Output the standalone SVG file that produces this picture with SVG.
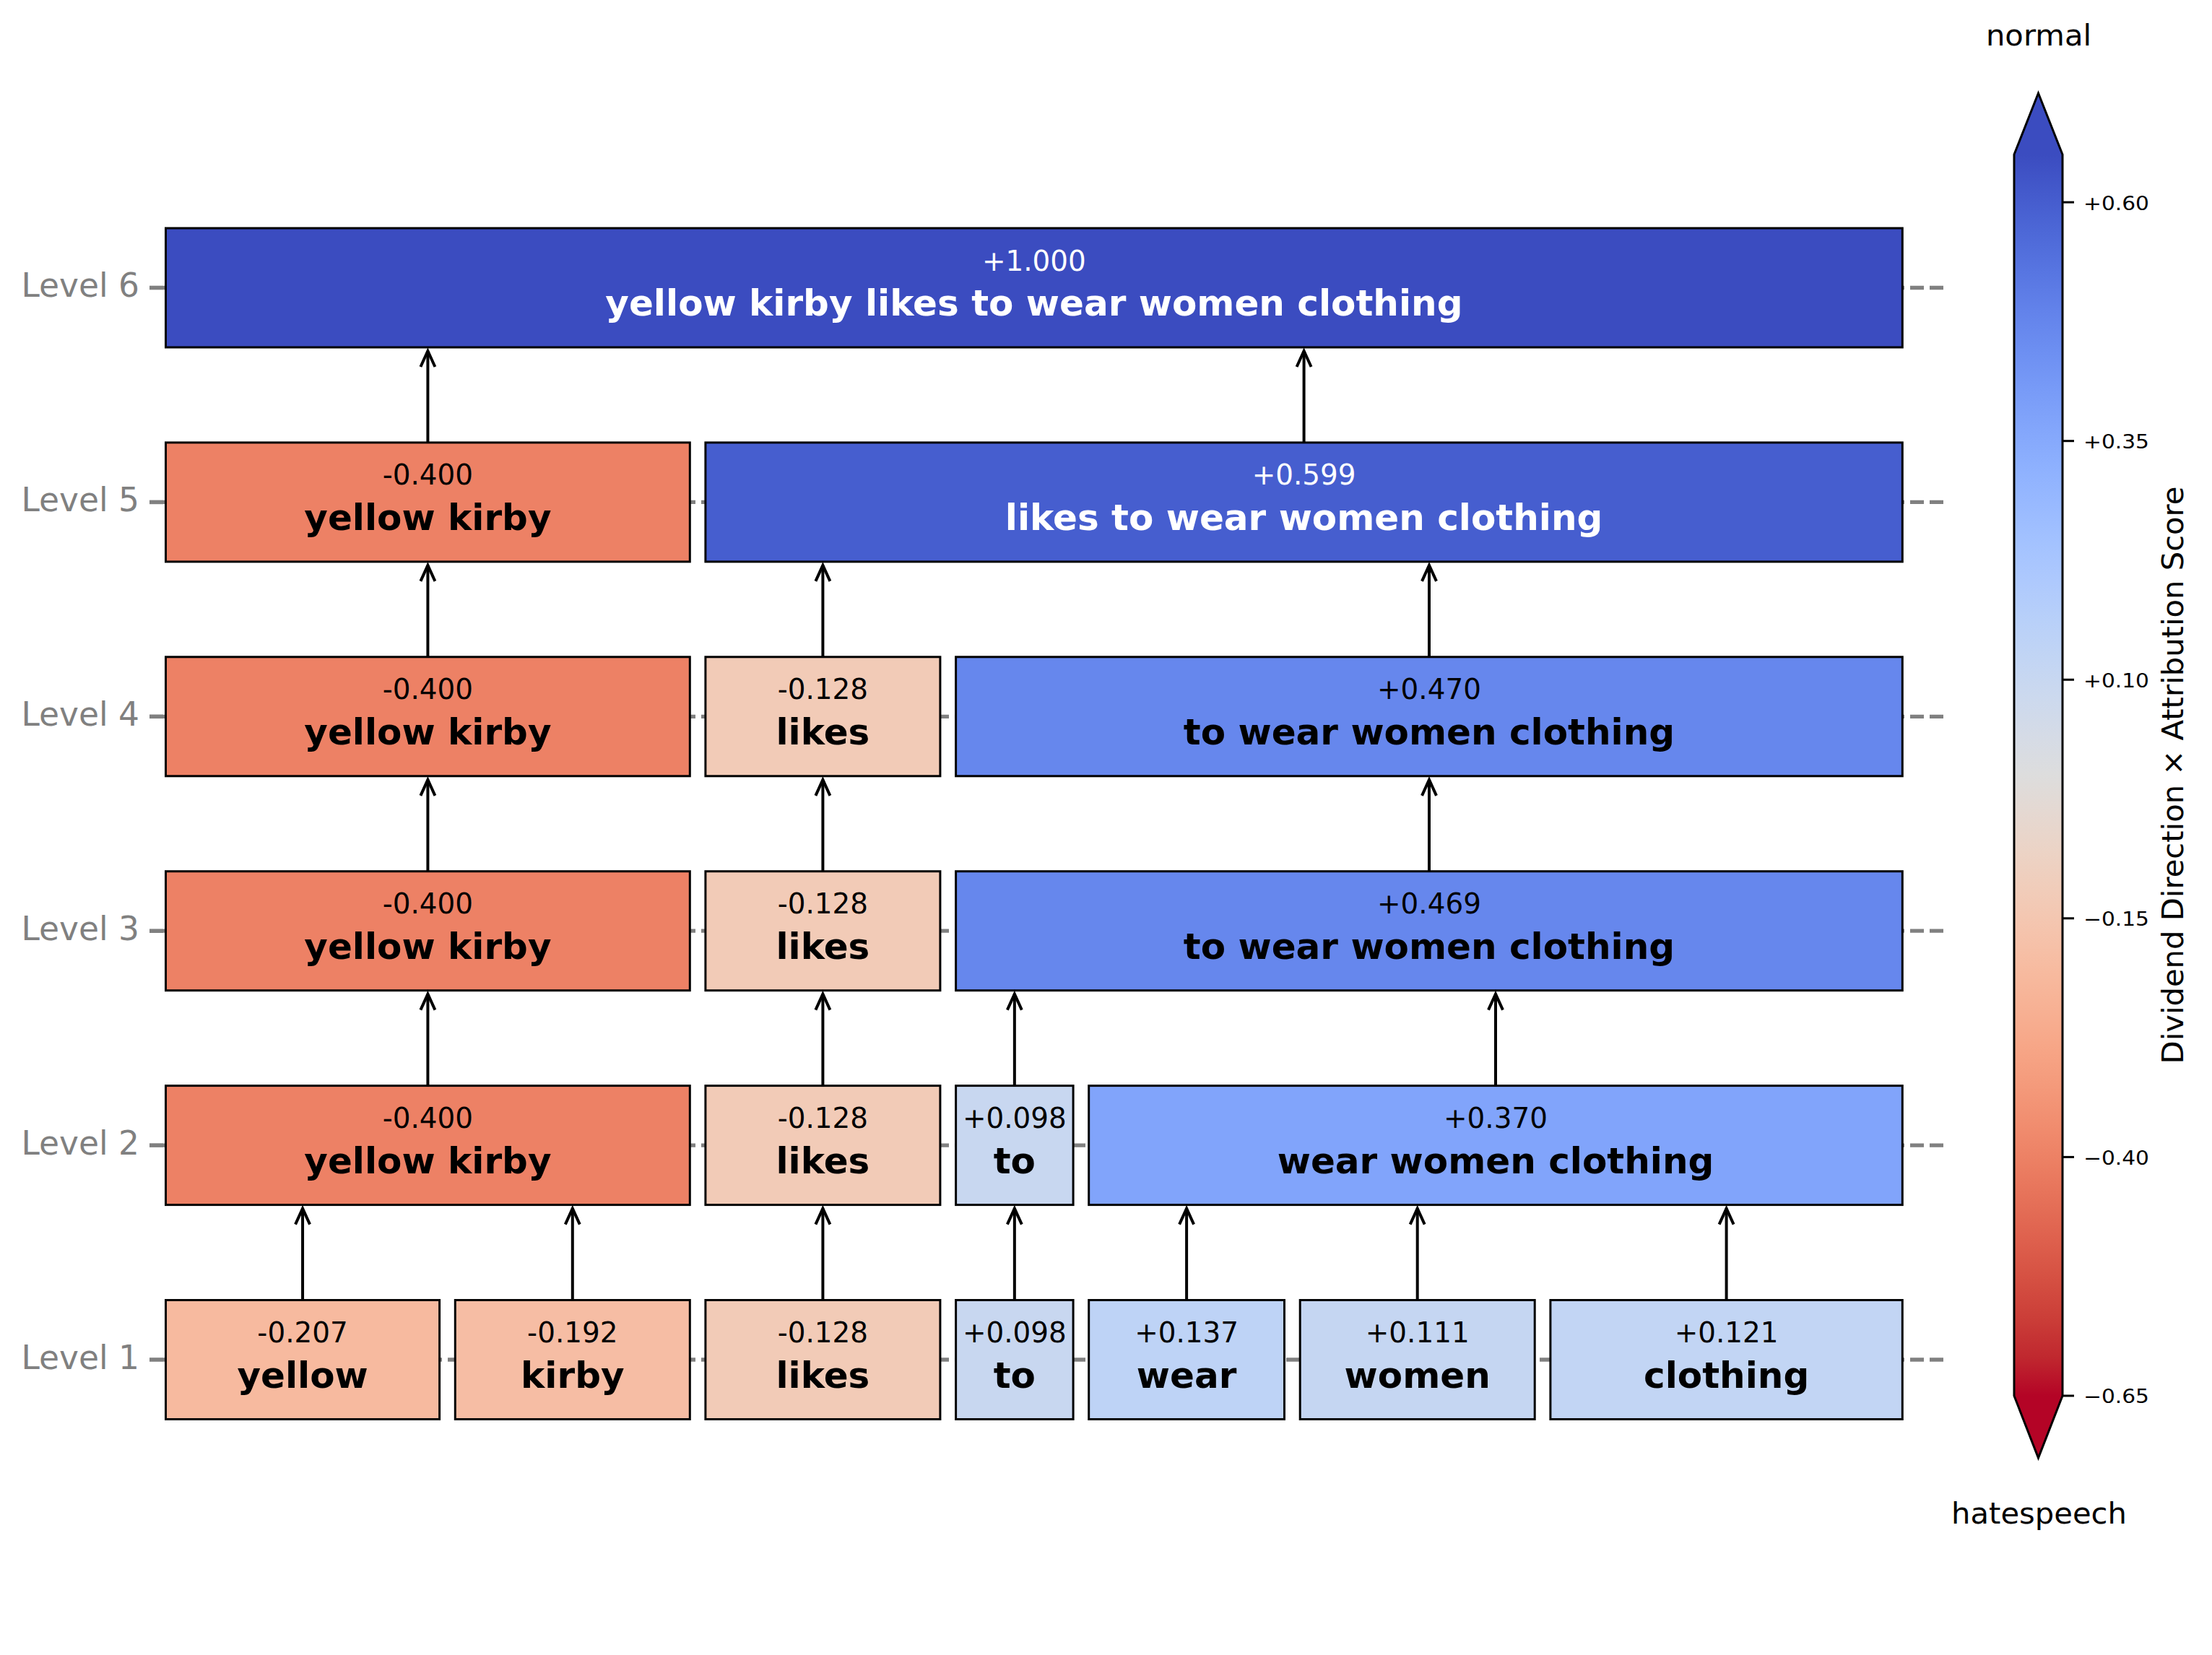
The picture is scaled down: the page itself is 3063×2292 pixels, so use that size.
<svg xmlns="http://www.w3.org/2000/svg" width="3063" height="2292" viewBox="0 0 3063 2292">
<style>
text{font-family:"DejaVu Sans","Liberation Sans",sans-serif}
.box{stroke:#000;stroke-width:3}
.val{font-size:38.9px;text-anchor:middle}
.name{font-size:50px;font-weight:bold;text-anchor:middle}
.dark{fill:#000}
.light{fill:#fff}
.grid{stroke:#808080;stroke-width:5.3;stroke-dasharray:19 8;stroke-dashoffset:11;fill:none}
.ytick{stroke:#808080;stroke-width:5.6}
.ylab{font-size:45.5px;fill:#808080;text-anchor:end}
.arrow{stroke:#000;stroke-width:4;fill:none;marker-end:url(#head)}
.ctick{stroke:#000;stroke-width:3}
.clab{font-size:26.5px;fill:#000}
.ctitle{font-size:41.7px;fill:#000;text-anchor:middle}
</style>
<defs>
<marker id="head" markerUnits="userSpaceOnUse" orient="auto" refX="0" refY="0" markerWidth="30" markerHeight="30" overflow="visible">
<path d="M-22,-10 L0,0 L-22,10" fill="none" stroke="#000" stroke-width="4" stroke-linejoin="miter"/>
</marker>
<linearGradient id="cw" gradientUnits="userSpaceOnUse" x1="0" y1="214" x2="0" y2="1933">
<stop offset="0" stop-color="rgb(59,76,192)"/>
<stop offset="0.03125" stop-color="rgb(68,90,204)"/>
<stop offset="0.0625" stop-color="rgb(77,104,215)"/>
<stop offset="0.09375" stop-color="rgb(87,117,225)"/>
<stop offset="0.125" stop-color="rgb(98,130,234)"/>
<stop offset="0.15625" stop-color="rgb(108,142,241)"/>
<stop offset="0.1875" stop-color="rgb(119,154,247)"/>
<stop offset="0.21875" stop-color="rgb(130,165,251)"/>
<stop offset="0.25" stop-color="rgb(141,176,254)"/>
<stop offset="0.28125" stop-color="rgb(152,185,255)"/>
<stop offset="0.3125" stop-color="rgb(163,194,255)"/>
<stop offset="0.34375" stop-color="rgb(174,201,253)"/>
<stop offset="0.375" stop-color="rgb(184,208,249)"/>
<stop offset="0.40625" stop-color="rgb(194,213,244)"/>
<stop offset="0.4375" stop-color="rgb(204,217,238)"/>
<stop offset="0.46875" stop-color="rgb(213,219,230)"/>
<stop offset="0.5" stop-color="rgb(221,221,221)"/>
<stop offset="0.53125" stop-color="rgb(229,216,209)"/>
<stop offset="0.5625" stop-color="rgb(236,211,197)"/>
<stop offset="0.59375" stop-color="rgb(241,204,185)"/>
<stop offset="0.625" stop-color="rgb(245,196,173)"/>
<stop offset="0.65625" stop-color="rgb(247,187,160)"/>
<stop offset="0.6875" stop-color="rgb(247,177,148)"/>
<stop offset="0.71875" stop-color="rgb(247,166,135)"/>
<stop offset="0.75" stop-color="rgb(244,154,123)"/>
<stop offset="0.78125" stop-color="rgb(241,141,111)"/>
<stop offset="0.8125" stop-color="rgb(236,127,99)"/>
<stop offset="0.84375" stop-color="rgb(229,112,88)"/>
<stop offset="0.875" stop-color="rgb(222,96,77)"/>
<stop offset="0.90625" stop-color="rgb(213,80,66)"/>
<stop offset="0.9375" stop-color="rgb(203,62,56)"/>
<stop offset="0.96875" stop-color="rgb(192,40,47)"/>
<stop offset="1" stop-color="rgb(180,4,38)"/>
</linearGradient>
</defs>
<rect width="3063" height="2292" fill="#fff"/>

<g id="axis">
<line class="grid" x1="226" y1="398.5" x2="2691" y2="398.5"/>
<line class="grid" x1="226" y1="695.4" x2="2691" y2="695.4"/>
<line class="grid" x1="226" y1="992.3" x2="2691" y2="992.3"/>
<line class="grid" x1="226" y1="1289.2" x2="2691" y2="1289.2"/>
<line class="grid" x1="226" y1="1586.1" x2="2691" y2="1586.1"/>
<line class="grid" x1="226" y1="1883" x2="2691" y2="1883"/>
<line class="ytick" x1="207" y1="398.5" x2="226" y2="398.5"/>
<line class="ytick" x1="207" y1="695.4" x2="226" y2="695.4"/>
<line class="ytick" x1="207" y1="992.3" x2="226" y2="992.3"/>
<line class="ytick" x1="207" y1="1289.2" x2="226" y2="1289.2"/>
<line class="ytick" x1="207" y1="1586.1" x2="226" y2="1586.1"/>
<line class="ytick" x1="207" y1="1883" x2="226" y2="1883"/>
<text class="ylab" x="193" y="411">Level 6</text>
<text class="ylab" x="193" y="707.9">Level 5</text>
<text class="ylab" x="193" y="1004.8">Level 4</text>
<text class="ylab" x="193" y="1301.7">Level 3</text>
<text class="ylab" x="193" y="1598.6">Level 2</text>
<text class="ylab" x="193" y="1895.5">Level 1</text>
</g>

<g id="connectors">
<line class="arrow" x1="419.05" y1="1800.5" x2="419.05" y2="1673.6"/>
<line class="arrow" x1="792.8" y1="1800.5" x2="792.8" y2="1673.6"/>
<line class="arrow" x1="1139.4" y1="1800.5" x2="1139.4" y2="1673.6"/>
<line class="arrow" x1="1404.85" y1="1800.5" x2="1404.85" y2="1673.6"/>
<line class="arrow" x1="1643.1" y1="1800.5" x2="1643.1" y2="1673.6"/>
<line class="arrow" x1="1962.7" y1="1800.5" x2="1962.7" y2="1673.6"/>
<line class="arrow" x1="2390.6" y1="1800.5" x2="2390.6" y2="1673.6"/>
<line class="arrow" x1="592.4" y1="1503.6" x2="592.4" y2="1376.7"/>
<line class="arrow" x1="1139.4" y1="1503.6" x2="1139.4" y2="1376.7"/>
<line class="arrow" x1="1404.85" y1="1503.6" x2="1404.85" y2="1376.7"/>
<line class="arrow" x1="2071" y1="1503.6" x2="2071" y2="1376.7"/>
<line class="arrow" x1="592.4" y1="1206.7" x2="592.4" y2="1079.8"/>
<line class="arrow" x1="1139.4" y1="1206.7" x2="1139.4" y2="1079.8"/>
<line class="arrow" x1="1979" y1="1206.7" x2="1979" y2="1079.8"/>
<line class="arrow" x1="592.4" y1="909.8" x2="592.4" y2="782.9"/>
<line class="arrow" x1="1139.4" y1="909.8" x2="1139.4" y2="782.9"/>
<line class="arrow" x1="1979" y1="909.8" x2="1979" y2="782.9"/>
<line class="arrow" x1="592.4" y1="612.9" x2="592.4" y2="486"/>
<line class="arrow" x1="1805.6" y1="612.9" x2="1805.6" y2="486"/>
</g>

<!-- Level 6 -->
<g id="n6_all">
<rect class="box" x="229.5" y="316" width="2404.8" height="165" fill="rgb(59,76,192)"/>
<text class="val light" x="1431.9" y="374.5">+1.000</text>
<text class="name light" x="1431.9" y="437">yellow kirby likes to wear women clothing</text>
</g>

<!-- Level 5 -->
<g id="n5_yellow_kirby">
<rect class="box" x="229.5" y="612.9" width="725.8" height="165" fill="rgb(237,129,101)"/>
<text class="val dark" x="592.4" y="671.4">-0.400</text>
<text class="name dark" x="592.4" y="733.9">yellow kirby</text>
</g>
<g id="n5_likes_to_wear_women_clothing">
<rect class="box" x="976.9" y="612.9" width="1657.4" height="165" fill="rgb(70,94,207)"/>
<text class="val light" x="1805.6" y="671.4">+0.599</text>
<text class="name light" x="1805.6" y="733.9">likes to wear women clothing</text>
</g>

<!-- Level 4 -->
<g id="n4_yellow_kirby">
<rect class="box" x="229.5" y="909.8" width="725.8" height="165" fill="rgb(237,129,101)"/>
<text class="val dark" x="592.4" y="968.3">-0.400</text>
<text class="name dark" x="592.4" y="1030.8">yellow kirby</text>
</g>
<g id="n4_likes">
<rect class="box" x="976.9" y="909.8" width="325" height="165" fill="rgb(242,203,183)"/>
<text class="val dark" x="1139.4" y="968.3">-0.128</text>
<text class="name dark" x="1139.4" y="1030.8">likes</text>
</g>
<g id="n4_to_wear_women_clothing">
<rect class="box" x="1323.6" y="909.8" width="1310.7" height="165" fill="rgb(102,135,237)"/>
<text class="val dark" x="1979" y="968.3">+0.470</text>
<text class="name dark" x="1979" y="1030.8">to wear women clothing</text>
</g>

<!-- Level 3 -->
<g id="n3_yellow_kirby">
<rect class="box" x="229.5" y="1206.7" width="725.8" height="165" fill="rgb(237,129,101)"/>
<text class="val dark" x="592.4" y="1265.2">-0.400</text>
<text class="name dark" x="592.4" y="1327.7">yellow kirby</text>
</g>
<g id="n3_likes">
<rect class="box" x="976.9" y="1206.7" width="325" height="165" fill="rgb(242,203,183)"/>
<text class="val dark" x="1139.4" y="1265.2">-0.128</text>
<text class="name dark" x="1139.4" y="1327.7">likes</text>
</g>
<g id="n3_to_wear_women_clothing">
<rect class="box" x="1323.6" y="1206.7" width="1310.7" height="165" fill="rgb(102,135,237)"/>
<text class="val dark" x="1979" y="1265.2">+0.469</text>
<text class="name dark" x="1979" y="1327.7">to wear women clothing</text>
</g>

<!-- Level 2 -->
<g id="n2_yellow_kirby">
<rect class="box" x="229.5" y="1503.6" width="725.8" height="165" fill="rgb(237,129,101)"/>
<text class="val dark" x="592.4" y="1562.1">-0.400</text>
<text class="name dark" x="592.4" y="1624.6">yellow kirby</text>
</g>
<g id="n2_likes">
<rect class="box" x="976.9" y="1503.6" width="325" height="165" fill="rgb(242,203,183)"/>
<text class="val dark" x="1139.4" y="1562.1">-0.128</text>
<text class="name dark" x="1139.4" y="1624.6">likes</text>
</g>
<g id="n2_to">
<rect class="box" x="1323.6" y="1503.6" width="162.5" height="165" fill="rgb(200,215,240)"/>
<text class="val dark" x="1404.85" y="1562.1">+0.098</text>
<text class="name dark" x="1404.85" y="1624.6">to</text>
</g>
<g id="n2_wear_women_clothing">
<rect class="box" x="1507.7" y="1503.6" width="1126.6" height="165" fill="rgb(129,164,251)"/>
<text class="val dark" x="2071" y="1562.1">+0.370</text>
<text class="name dark" x="2071" y="1624.6">wear women clothing</text>
</g>

<!-- Level 1 -->
<g id="n1_yellow">
<rect class="box" x="229.5" y="1800.5" width="379.1" height="165" fill="rgb(247,186,159)"/>
<text class="val dark" x="419.05" y="1859">-0.207</text>
<text class="name dark" x="419.05" y="1921.5">yellow</text>
</g>
<g id="n1_kirby">
<rect class="box" x="630.3" y="1800.5" width="325" height="165" fill="rgb(246,189,164)"/>
<text class="val dark" x="792.8" y="1859">-0.192</text>
<text class="name dark" x="792.8" y="1921.5">kirby</text>
</g>
<g id="n1_likes">
<rect class="box" x="976.9" y="1800.5" width="325" height="165" fill="rgb(242,203,183)"/>
<text class="val dark" x="1139.4" y="1859">-0.128</text>
<text class="name dark" x="1139.4" y="1921.5">likes</text>
</g>
<g id="n1_to">
<rect class="box" x="1323.6" y="1800.5" width="162.5" height="165" fill="rgb(200,215,240)"/>
<text class="val dark" x="1404.85" y="1859">+0.098</text>
<text class="name dark" x="1404.85" y="1921.5">to</text>
</g>
<g id="n1_wear">
<rect class="box" x="1507.7" y="1800.5" width="270.8" height="165" fill="rgb(190,211,246)"/>
<text class="val dark" x="1643.1" y="1859">+0.137</text>
<text class="name dark" x="1643.1" y="1921.5">wear</text>
</g>
<g id="n1_women">
<rect class="box" x="1800.2" y="1800.5" width="325" height="165" fill="rgb(197,214,242)"/>
<text class="val dark" x="1962.7" y="1859">+0.111</text>
<text class="name dark" x="1962.7" y="1921.5">women</text>
</g>
<g id="n1_clothing">
<rect class="box" x="2146.9" y="1800.5" width="487.4" height="165" fill="rgb(194,213,244)"/>
<text class="val dark" x="2390.6" y="1859">+0.121</text>
<text class="name dark" x="2390.6" y="1921.5">clothing</text>
</g>

<g id="colorbar">
<text class="ctitle" x="2823" y="63">normal</text>
<text class="ctitle" x="2823.5" y="2110">hatespeech</text>
<polygon points="2789,214 2822.5,129 2856,214" fill="rgb(59,76,192)"/>
<polygon points="2789,1933 2822.5,2019 2856,1933" fill="rgb(180,4,38)"/>
<rect x="2789" y="214" width="67" height="1719" fill="url(#cw)"/>
<polygon points="2789,214 2822.5,129 2856,214 2856,1933 2822.5,2019 2789,1933" fill="none" stroke="#000" stroke-width="3"/>
<line class="ctick" x1="2856" y1="280.1" x2="2872" y2="280.1"/>
<line class="ctick" x1="2856" y1="610.7" x2="2872" y2="610.7"/>
<line class="ctick" x1="2856" y1="941.3" x2="2872" y2="941.3"/>
<line class="ctick" x1="2856" y1="1271.8" x2="2872" y2="1271.8"/>
<line class="ctick" x1="2856" y1="1602.4" x2="2872" y2="1602.4"/>
<line class="ctick" x1="2856" y1="1933" x2="2872" y2="1933"/>
<text class="clab" x="2885" y="290.5" textLength="91" lengthAdjust="spacingAndGlyphs">+0.60</text>
<text class="clab" x="2885" y="621.1" textLength="91" lengthAdjust="spacingAndGlyphs">+0.35</text>
<text class="clab" x="2885" y="951.7" textLength="91" lengthAdjust="spacingAndGlyphs">+0.10</text>
<text class="clab" x="2885" y="1282.2" textLength="91" lengthAdjust="spacingAndGlyphs">−0.15</text>
<text class="clab" x="2885" y="1612.8" textLength="91" lengthAdjust="spacingAndGlyphs">−0.40</text>
<text class="clab" x="2885" y="1943.4" textLength="91" lengthAdjust="spacingAndGlyphs">−0.65</text>
<text x="3023" y="1073.5" transform="rotate(-90 3023 1073.5)" style="font-size:41.7px;text-anchor:middle;fill:#000">Dividend Direction × Attribution Score</text>
</g>
</svg>
